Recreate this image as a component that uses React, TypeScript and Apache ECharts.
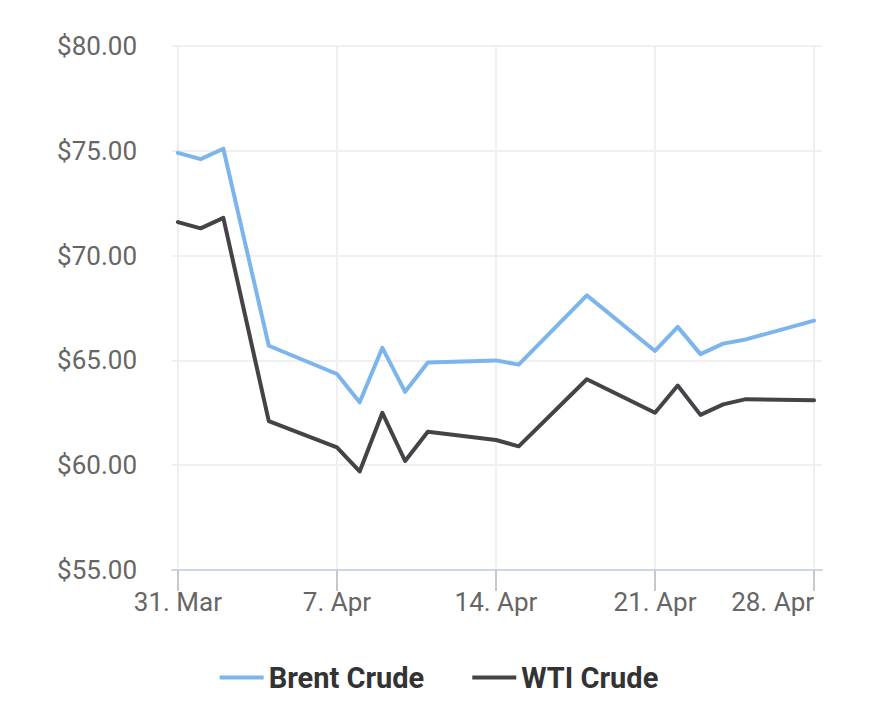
import React, { useEffect, useRef } from "react";
import * as echarts from "echarts";

const dates = [
  "2025-03-31", "2025-04-01", "2025-04-02", "2025-04-04", "2025-04-07",
  "2025-04-08", "2025-04-09", "2025-04-10", "2025-04-11", "2025-04-14",
  "2025-04-15", "2025-04-18", "2025-04-21", "2025-04-22", "2025-04-23",
  "2025-04-24", "2025-04-25", "2025-04-28",
];
const brent = [74.9, 74.6, 75.1, 65.7, 64.35, 63.0, 65.6, 63.5, 64.9, 65.0, 64.8, 68.1, 65.45, 66.6, 65.3, 65.8, 66.0, 66.9];
const wti = [71.6, 71.3, 71.8, 62.1, 60.85, 59.7, 62.5, 60.2, 61.6, 61.2, 60.9, 64.1, 62.5, 63.8, 62.4, 62.9, 63.15, 63.1];
const xTickDays = [0, 7, 14, 21, 28];
const xTickLabels = ["31. Mar", "7. Apr", "14. Apr", "21. Apr", "28. Apr"];
const yTicks = [55, 60, 65, 70, 75, 80];

const DAY = 86400000;
const base = Date.parse(dates[0] + "T00:00:00Z");
const dayOf = (d: string) => Math.round((Date.parse(d + "T00:00:00Z") - base) / DAY);

export default function App() {
  const ref = useRef<HTMLDivElement>(null);
  useEffect(() => {
    if (!ref.current) return;
    const chart = echarts.init(ref.current, undefined, { renderer: "svg" });
    const font = "Roboto, 'Noto Sans', sans-serif";
    chart.setOption({
      animation: false,
      backgroundColor: "#ffffff",
      textStyle: { fontFamily: font },
      grid: { left: 172, right: 56, top: 46, bottom: 142, containLabel: false },
      legend: {
        top: 658,
        left: "center",
        icon: "rect",
        itemWidth: 44,
        itemHeight: 4,
        itemGap: 48,
        textStyle: { fontFamily: font, fontSize: 29, fontWeight: "bold", color: "#333333" },
        data: ["Brent Crude", "WTI Crude"],
      },
      xAxis: {
        type: "value",
        min: -0.26,
        max: 28.35,
        axisLine: { show: true, lineStyle: { color: "#ccd6eb", width: 2 } },
        axisTick: { show: true, length: 21, lineStyle: { color: "#c8c8c8", width: 2 }, customValues: xTickDays },
        axisLabel: {
          customValues: xTickDays,
          margin: 19,
          fontSize: 26,
          color: "#666666",
          fontFamily: font,
          alignMaxLabel: "right",
          formatter: (v: number) => xTickLabels[xTickDays.indexOf(Math.round(v))] ?? "",
        },
        splitLine: { show: false },
      },
      yAxis: {
        type: "value",
        min: yTicks[0],
        max: yTicks[yTicks.length - 1],
        interval: 5,
        axisLine: { show: false },
        axisTick: { show: false },
        axisLabel: {
          margin: 35,
          fontSize: 26,
          color: "#666666",
          fontFamily: font,
          formatter: (v: number) => "$" + v.toFixed(2),
        },
        splitLine: { show: true, lineStyle: { color: "#f0f0f0", width: 2 } },
      },
      series: [
        {
          name: "Brent Crude",
          type: "line",
          showSymbol: false,
          symbol: "none",
          color: "#7cb5ec",
          lineStyle: { width: 4, color: "#7cb5ec", join: "round", cap: "round" },
          data: dates.map((d, i) => [dayOf(d), brent[i]]),
          markLine: {
            silent: true,
            symbol: "none",
            label: { show: false },
            lineStyle: { color: "#f0f0f0", width: 2, type: "solid" },
            z: 0,
            data: xTickDays.map((d) => ({ xAxis: d })),
          },
          z: 3,
        },
        {
          name: "WTI Crude",
          type: "line",
          showSymbol: false,
          symbol: "none",
          color: "#434348",
          lineStyle: { width: 4, color: "#434348", join: "round", cap: "round" },
          data: dates.map((d, i) => [dayOf(d), wti[i]]),
          z: 3,
        },
      ],
    });
    return () => chart.dispose();
  }, []);
  return (
    <div
      ref={ref}
      style={{ position: "absolute", left: 0, top: 0, width: 878, height: 712 }}
    />
  );
}
